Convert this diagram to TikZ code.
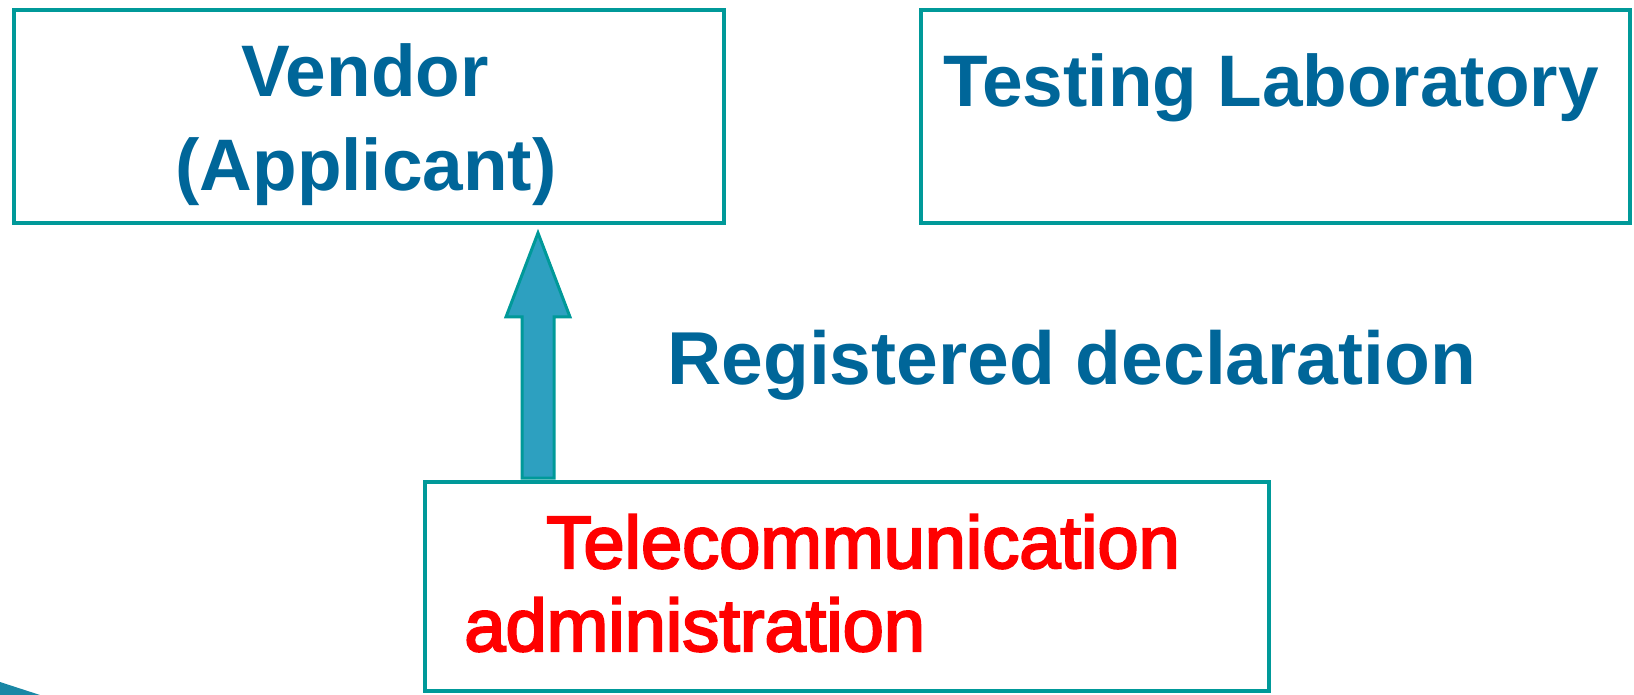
\documentclass[tikz,border=0pt]{standalone}
\usepackage{fontspec}
\setmainfont{Liberation Sans}
\newfontfamily\redfont{Liberation Sans}[FakeBold=3]
\usepackage{tikz}

\definecolor{boxteal}{RGB}{0,153,153}
\definecolor{titleblue}{RGB}{0,102,153}
\definecolor{arrowblue}{RGB}{45,160,192}
\definecolor{cornerblue}{RGB}{25,135,165}

\begin{document}
\begin{tikzpicture}[x=0.5pt,y=-0.5pt,
  box/.style={draw=boxteal, line width=2pt, inner sep=0pt},
  lbl/.style={font=\bfseries\fontsize{36.5}{44}\selectfont, text=titleblue, inner sep=0pt, anchor=base},
  redlbl/.style={font=\redfont\fontsize{37}{44}\selectfont, text=red, inner sep=0pt, anchor=base west}]
\useasboundingbox (0,0) rectangle (1634,695);

% the three boxes
\node[box, minimum width=354.75pt, minimum height=106.4pt] (vendor) at (369,116.6) {};
\node[box, minimum width=354.5pt, minimum height=106.4pt] (lab) at (1275.5,116.6) {};
\node[box, minimum width=422pt, minimum height=104.5pt] (tele) at (847,586.5) {};

\node[lbl] (vendortxt) at (365,97) {Vendor};
\node[lbl] (applicant) at (366,191) {(Applicant)};
\node[lbl] (labtxt) at (1271,107) {Testing Laboratory};
\node[lbl, anchor=base west, font=\bfseries\fontsize{37.5}{44}\selectfont] (regdecl) at (667,385) {Registered declaration};

\node[redlbl] (teletxt) at (546,568) {Telecommunication};
\node[redlbl] (admintxt) at (464,651) {administration};

% block arrow up to the vendor
\coordinate (atail) at (538,478);
\coordinate (atip) at (538,233);
\draw[draw=boxteal, line width=1.5pt, fill=arrowblue, line join=miter]
(atail) ++(-16,0) -- ++(0,-161) -- ++(-16,0) --
(atip) -- ++(32,84) -- ++(-16,0) -- ++(0,161) -- cycle;

\fill[cornerblue] (0,682) -- (40,695) -- (0,695) -- cycle;
\end{tikzpicture}
\end{document}
